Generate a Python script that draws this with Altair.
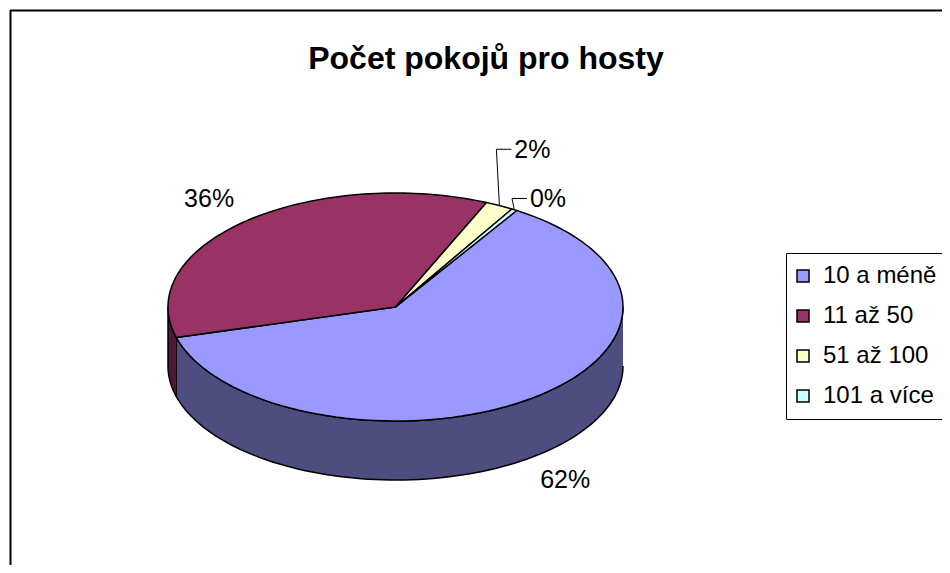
import altair as alt
import pandas as pd

# ---- data ----
categories = ["10 a méně", "11 až 50", "51 až 100", "101 a více"]
values = [62, 36, 2, 0.4]

# ---- styles ----
top_colors = ["#9999FF", "#993366", "#FFFFCC", "#CCFFFF"]
wall_colors = ["#4D4D80", "#4D1A33", "#808066", "#668080"]
label_dx = [0, 0, 7, 4]
label_dy = [0, 0, -30, 14]

TITLE = "Počet pokojů pro hosty"

W, H = 934, 557
CX, CY = 387.5, 299.0      # centre of the pie top
A, B, D = 227.5, 114.0, 59.0  # half-width, half-height, depth
START = 32.2               # first slice angle (deg)
K = 1.25                   # label radius factor
N = 90                     # points per arc

df = pd.DataFrame({
    "cat": categories,
    "value": values,
    "k": list(range(len(categories))),
    "ldx": label_dx,
    "ldy": label_dy,
})

XS = alt.Scale(domain=[0, W], range=[0, W])
YS = alt.Scale(domain=[0, H], range=[0, H])


def xe(f):
    return alt.X(f"{f}:Q", scale=XS, axis=None)


def ye(f):
    return alt.Y(f"{f}:Q", scale=YS, axis=None)


base = (
    alt.Chart(df)
    .transform_joinaggregate(total="sum(value)")
    .transform_window(cum="sum(value)", sort=[alt.SortField("k")], frame=[None, 0])
    .transform_calculate(
        a0=f"{START}*PI/180 + 2*PI*(datum.cum - datum.value)/datum.total",
        a1=f"{START}*PI/180 + 2*PI*datum.cum/datum.total",
    )
)

# side walls (front half only)
walls = (
    base.transform_calculate(w0="max(datum.a0, PI/2)", w1="min(datum.a1, 3*PI/2)")
    .transform_filter("datum.w1 > datum.w0")
    .transform_calculate(pts=f"sequence(0, {2 * N + 2})")
    .transform_flatten(["pts"])
    .transform_calculate(
        ang=f"datum.pts <= {N} ? datum.w0 + (datum.w1 - datum.w0)*datum.pts/{N} : datum.w1 - (datum.w1 - datum.w0)*(datum.pts - {N + 1})/{N}",
        px=f"{CX} + {A}*sin(datum.ang)",
        py=f"{CY} - {B}*cos(datum.ang) + (datum.pts <= {N} ? 0 : {D})",
    )
    .mark_line(stroke="black", strokeWidth=1.5, strokeJoin="round")
    .encode(
        x=xe("px"),
        y=ye("py"),
        order=alt.Order("pts:Q"),
        detail="cat:N",
        fill=alt.Fill("cat:N", scale=alt.Scale(domain=categories, range=wall_colors), legend=None),
    )
)

# top surface slices
top = (
    base.transform_calculate(pts=f"sequence(0, {N + 3})")
    .transform_flatten(["pts"])
    .transform_calculate(
        ang=f"datum.a0 + (datum.a1 - datum.a0)*(datum.pts - 1)/{N}",
        px=f"(datum.pts == 0 || datum.pts == {N + 2}) ? {CX} : {CX} + {A}*sin(datum.ang)",
        py=f"(datum.pts == 0 || datum.pts == {N + 2}) ? {CY} : {CY} - {B}*cos(datum.ang)",
    )
    .mark_line(stroke="black", strokeWidth=1.5, strokeJoin="round")
    .encode(
        x=xe("px"),
        y=ye("py"),
        order=alt.Order("pts:Q"),
        detail="cat:N",
        fill=alt.Fill(
            "cat:N",
            scale=alt.Scale(domain=categories, range=top_colors),
            sort=categories,
            legend=alt.Legend(
                title=None,
                orient="none",
                legendX=778,
                legendY=245,
                symbolType="square",
                symbolSize=144,
                symbolStrokeColor="black",
                symbolStrokeWidth=1.5,
                symbolOpacity=1,
                symbolOffset=-6,
                labelFont="Liberation Sans",
                labelFontSize=24,
                labelColor="black",
                labelOffset=8,
                rowPadding=16,
                padding=11,
                strokeColor="black",
                fillColor="white",
            ),
        ),
    )
)

lab_base = base.transform_calculate(mid="(datum.a0 + datum.a1)/2").transform_calculate(
    lx=f"{CX} + {A * K}*sin(datum.mid) + datum.ldx",
    ly=f"{CY} - {B * K}*cos(datum.mid) + (cos(datum.mid) < 0 ? {D} : 0) + datum.ldy",
    txt="format(datum.value/datum.total, '.0%')",
)

labels = lab_base.mark_text(
    font="Liberation Sans", fontSize=25, color="black", align="center", baseline="middle"
).encode(x=xe("lx"), y=ye("ly"), text="txt:N")

lead_base = lab_base.transform_filter("datum.value/datum.total < 0.05").transform_calculate(
    sx=f"{CX} + {A}*sin(datum.mid)",
    sy=f"{CY} - {B}*cos(datum.mid)",
    ex="datum.lx - 36",
    ey="datum.ly - 1",
    hx="datum.lx - 21",
)
lead1 = lead_base.mark_rule(color="black", strokeWidth=1).encode(
    x=xe("sx"), y=ye("sy"), x2=alt.X2("ex:Q"), y2=alt.Y2("ey:Q")
)
lead2 = lead_base.mark_rule(color="black", strokeWidth=1).encode(
    x=xe("ex"), y=ye("ey"), x2=alt.X2("hx:Q")
)

title = (
    alt.Chart(pd.DataFrame({"t": [TITLE]}))
    .mark_text(
        font="Liberation Sans",
        fontWeight="bold",
        fontSize=32,
        color="black",
        align="center",
        baseline="alphabetic",
    )
    .encode(text="t:N", x=alt.value(478), y=alt.value(61))
)

one = pd.DataFrame({"z": [0]})
frame_top = alt.Chart(one).mark_rule(color="black", strokeWidth=2).encode(
    x=alt.value(2), x2=alt.value(W), y=alt.value(2.5)
)
frame_left = alt.Chart(one).mark_rule(color="black", strokeWidth=2).encode(
    x=alt.value(2.5), y=alt.value(2), y2=alt.value(H)
)

chart = (
    alt.layer(frame_top, frame_left, walls, top, lead1, lead2, labels, title)
    .resolve_scale(fill="independent")
    .properties(
        width=W,
        height=H,
        autosize=alt.AutoSizeParams(type="none"),
        padding=0,
        background="white",
    )
    .configure_view(stroke=None)
)

chart.save("out.html", embed_options={"renderer": "svg", "actions": False})
